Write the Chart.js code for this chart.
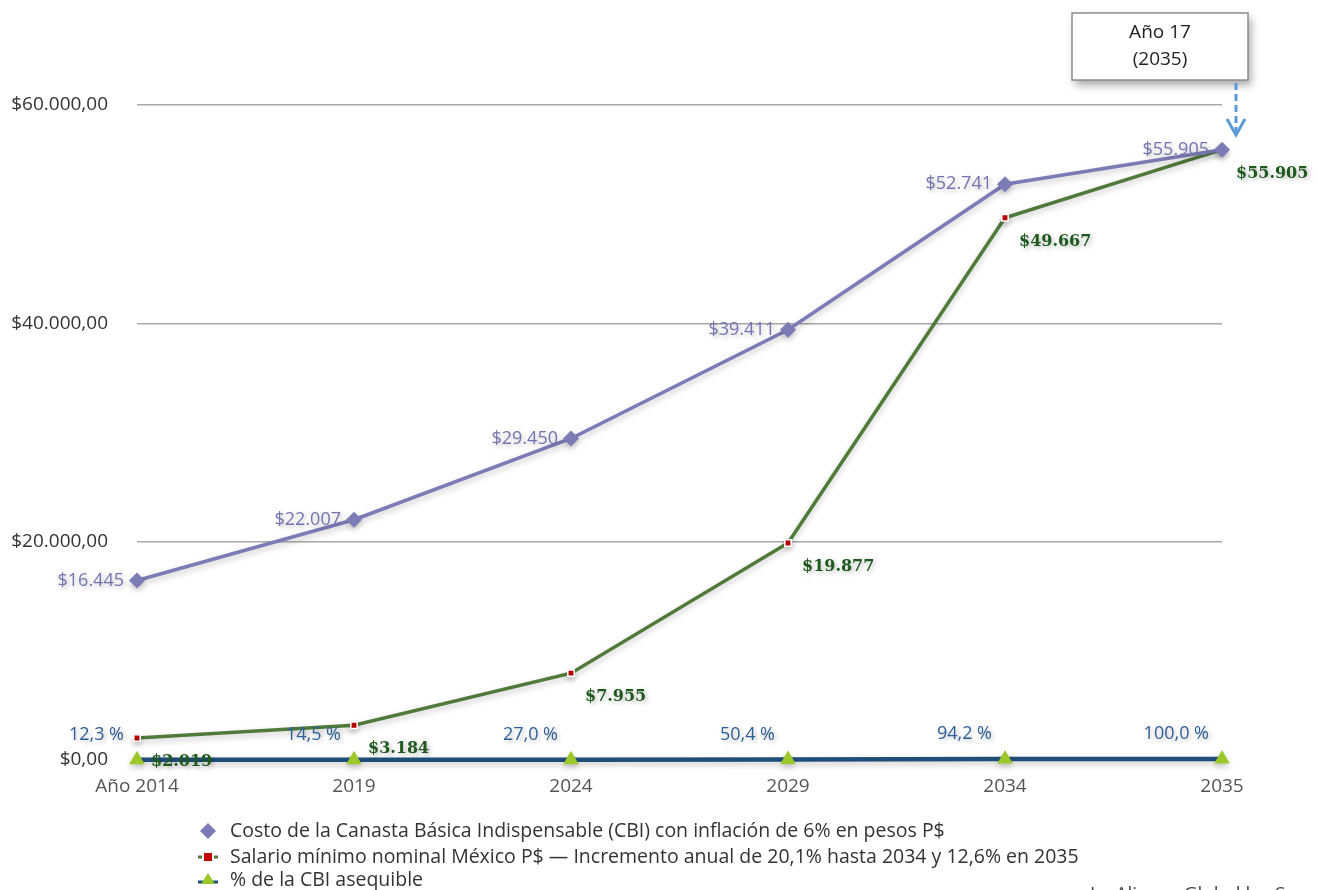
<!DOCTYPE html>
<html lang="es">
<head>
<meta charset="UTF-8">
<title>CBI vs salario mínimo</title>
<script src="https://cdn.jsdelivr.net/npm/chart.js@4.4.1/dist/chart.umd.min.js"></script>
<style>
    html, body { margin: 0; padding: 0; background: #fff; }
    #wrap { width: 1318px; height: 890px; position: relative; }
</style>
</head>
<body>
<div id="wrap"><canvas id="chart"></canvas></div>
<script>
    const years = ["Año 2014", "2019", "2024", "2029", "2034", "2035"];
    const cbiCost = [16445, 22007, 29450, 39411, 52741, 55905];
    const minWage = [2019, 3184, 7955, 19877, 49667, 55905];
    const cbiPct = [12.3, 14.5, 27.0, 50.4, 94.2, 100.0];
    const yTicks = [0, 20000, 40000, 60000];

    const legendTexts = [
        "Costo de la Canasta Básica Indispensable (CBI) con inflación de 6% en pesos P$",
        "Salario mínimo nominal México P$ — Incremento anual de 20,1% hasta 2034 y 12,6% en 2035",
        "% de la CBI asequible"
    ];

    const sansFont = "'Open Sans', Lato, sans-serif";

    function money(v, dec) {
        return "$" + v.toLocaleString("de-DE", { minimumFractionDigits: dec, maximumFractionDigits: dec });
    }
    function pct(v) {
        return v.toFixed(1).replace(".", ",") + " %";
    }

    // soft shadow under every line, like the original
    const shadowPlugin = {
        id: "shadow",
        beforeDatasetDraw(chart) {
            const ctx = chart.ctx;
            ctx.save();
            ctx.shadowColor = "rgba(0,0,0,0.22)";
            ctx.shadowBlur = 6;
            ctx.shadowOffsetY = 3;
        },
        afterDatasetDraw(chart) {
            chart.ctx.restore();
        }
    };

    function shadowText(ctx, txt, x, y) {
        ctx.save();
        ctx.shadowColor = "rgba(0,0,0,0.28)";
        ctx.shadowBlur = 5;
        ctx.shadowOffsetX = 2;
        ctx.shadowOffsetY = 2;
        ctx.fillText(txt, x, y);
        ctx.restore();
    }

    const labelPlugin = {
        id: "labels",
        afterDatasetsDraw(chart) {
            const ctx = chart.ctx;
            ctx.save();
            ctx.textBaseline = "middle";

            // CBI cost labels (left of the point)
            ctx.font = "18px " + sansFont;
            ctx.fillStyle = "#7474b0";
            ctx.textAlign = "right";
            chart.getDatasetMeta(0).data.forEach((p, i) => {
                shadowText(ctx, money(cbiCost[i], 0), p.x - 13, p.y);
            });

            // % labels (above left)
            ctx.fillStyle = "#2e5f98";
            chart.getDatasetMeta(2).data.forEach((p, i) => {
                shadowText(ctx, pct(cbiPct[i]), p.x - 13, p.y - 25);
            });

            // wage labels (below right)
            ctx.font = "bold 16px 'DejaVu Serif', 'Liberation Serif', serif";
            ctx.fillStyle = "#1e5a1e";
            ctx.textAlign = "left";
            chart.getDatasetMeta(1).data.forEach((p, i) => {
                shadowText(ctx, money(minWage[i], 0), p.x + 14, p.y + 24);
            });
            ctx.restore();
        }
    };

    const extrasPlugin = {
        id: "extras",
        afterDraw(chart) {
            const ctx = chart.ctx;
            const xs = chart.scales.x;
            const lastX = xs.getPixelForValue(years.length - 1);

            // annotation box
            const bx = 1072, by = 13, bw = 176, bh = 67;
            ctx.save();
            ctx.shadowColor = "rgba(0,0,0,0.35)";
            ctx.shadowBlur = 8;
            ctx.shadowOffsetX = 3;
            ctx.shadowOffsetY = 5;
            ctx.fillStyle = "#fff";
            ctx.fillRect(bx, by, bw, bh);
            ctx.restore();
            ctx.save();
            ctx.strokeStyle = "#8c8c8c";
            ctx.lineWidth = 1.5;
            ctx.strokeRect(bx, by, bw, bh);
            ctx.fillStyle = "#222";
            ctx.font = "19px " + sansFont;
            ctx.textAlign = "center";
            ctx.textBaseline = "middle";
            ctx.fillText("Año 17", bx + bw / 2, by + 20);
            ctx.fillText("(2035)", bx + bw / 2, by + 47);

            // dashed arrow to the 2035 point
            const ax = lastX + 14;
            ctx.strokeStyle = "#5b9bd5";
            ctx.lineWidth = 3;
            ctx.setLineDash([7, 4]);
            ctx.beginPath();
            ctx.moveTo(ax, by + bh + 3);
            ctx.lineTo(ax, 133);
            ctx.stroke();
            ctx.setLineDash([]);
            ctx.beginPath();
            ctx.moveTo(ax - 9, 119);
            ctx.lineTo(ax, 135);
            ctx.lineTo(ax + 9, 119);
            ctx.stroke();

            // legend
            const lx = 208, ly = [831, 857, 880];
            ctx.font = "19.5px " + sansFont;
            ctx.textAlign = "left";
            ctx.textBaseline = "middle";
            ctx.fillStyle = "#333";
            legendTexts.forEach((t, i) => ctx.fillText(t, lx + 22, ly[i]));

            // legend marker 1: diamond
            ctx.fillStyle = "#7b7bb5";
            ctx.beginPath();
            ctx.moveTo(lx, ly[0] - 8);
            ctx.lineTo(lx + 8, ly[0]);
            ctx.lineTo(lx, ly[0] + 8);
            ctx.lineTo(lx - 8, ly[0]);
            ctx.closePath();
            ctx.fill();
            // legend marker 2: red square on green line
            ctx.strokeStyle = "#4f7a3a";
            ctx.lineWidth = 3;
            ctx.beginPath();
            ctx.moveTo(lx - 10, ly[1]);
            ctx.lineTo(lx + 10, ly[1]);
            ctx.stroke();
            ctx.fillStyle = "#fff";
            ctx.fillRect(lx - 6, ly[1] - 6, 12, 12);
            ctx.fillStyle = "#c00000";
            ctx.fillRect(lx - 4, ly[1] - 4, 8, 8);
            // legend marker 3: triangle on blue line
            ctx.strokeStyle = "#1f4e79";
            ctx.beginPath();
            ctx.moveTo(lx - 10, ly[2] + 2);
            ctx.lineTo(lx + 10, ly[2] + 2);
            ctx.stroke();
            ctx.fillStyle = "#9dc82a";
            ctx.beginPath();
            ctx.moveTo(lx, ly[2] - 7);
            ctx.lineTo(lx + 7, ly[2] + 4);
            ctx.lineTo(lx - 7, ly[2] + 4);
            ctx.closePath();
            ctx.fill();

            // source line, cut by the picture edge
            ctx.fillStyle = "#444";
            ctx.font = "19px " + sansFont;
            ctx.textBaseline = "top";
            ctx.fillText("La Alianza Global las Semnas", 1090, 885);
            ctx.restore();
        }
    };

    new Chart(document.getElementById("chart"), {
        type: "line",
        data: {
            labels: years,
            datasets: [
                {
                    label: legendTexts[0],
                    data: cbiCost,
                    borderColor: "#7b7bb5",
                    backgroundColor: "#7b7bb5",
                    borderWidth: 3.5,
                    pointStyle: "rectRot",
                    pointRadius: 8,
                    pointBorderWidth: 0,
                    tension: 0,
                    clip: false
                },
                {
                    label: legendTexts[1],
                    data: minWage,
                    borderColor: "#4f7a3a",
                    backgroundColor: "#c00000",
                    pointBorderColor: "#ffffff",
                    borderWidth: 3.5,
                    pointStyle: "rect",
                    pointRadius: 4.5,
                    pointBorderWidth: 1.5,
                    tension: 0,
                    clip: false
                },
                {
                    label: legendTexts[2],
                    data: cbiPct,
                    borderColor: "#1f4e79",
                    backgroundColor: "#9dc82a",
                    borderWidth: 4.5,
                    pointStyle: "triangle",
                    pointRadius: 9,
                    pointBorderWidth: 0,
                    tension: 0,
                    clip: false
                }
            ]
        },
        options: {
            responsive: true,
            maintainAspectRatio: false,
            animation: false,
            layout: { padding: { top: 105, right: 96, left: 0, bottom: 0 } },
            plugins: {
                legend: { display: false },
                tooltip: { enabled: false }
            },
            scales: {
                x: {
                    grid: { display: false, drawTicks: false },
                    border: { display: false },
                    ticks: {
                        padding: 15,
                        color: "#555",
                        font: { family: sansFont, size: 19 },
                        maxRotation: 0
                    },
                    afterFit(scale) { scale.height = 130; }
                },
                y: {
                    min: 0,
                    max: 60000,
                    afterBuildTicks(scale) {
                        scale.ticks = yTicks.map(v => ({ value: v }));
                    },
                    grid: { color: "#a8a8a8", lineWidth: 1.5, drawTicks: false },
                    border: { display: false },
                    ticks: {
                        padding: 29,
                        color: "#333",
                        font: { family: sansFont, size: 19 },
                        callback: v => money(v, 2)
                    },
                    afterFit(scale) { scale.width = 137; }
                }
            }
        },
        plugins: [shadowPlugin, labelPlugin, extrasPlugin]
    });
</script>
</body>
</html>
